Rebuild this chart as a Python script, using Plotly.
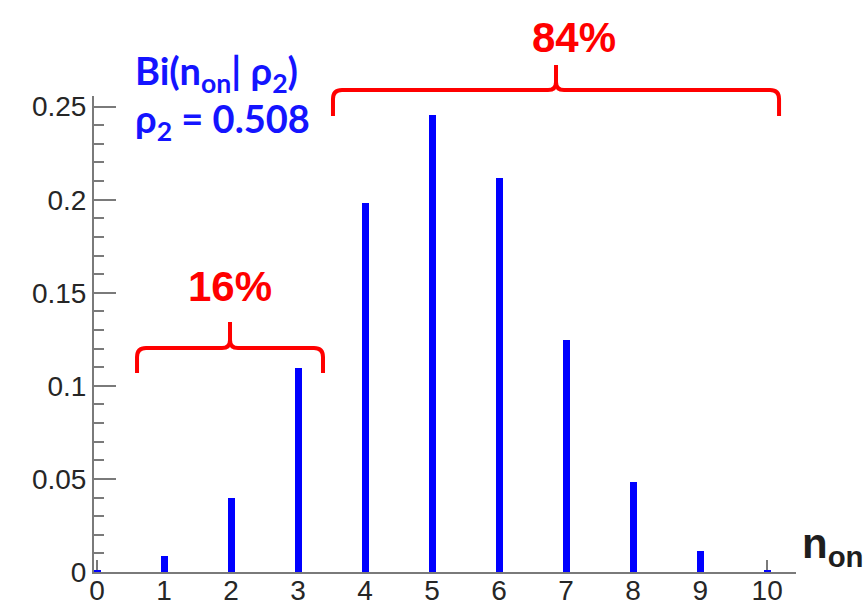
import plotly.graph_objects as go

# Binomial probabilities Bi(n_on | rho_2), rho_2 = 0.508
n_on = list(range(11))
prob = [0.0008, 0.0086, 0.0399, 0.1098, 0.1983, 0.2457, 0.2114, 0.1247, 0.0483, 0.0111, 0.0011]

y_ticks = [0, 0.05, 0.1, 0.15, 0.2, 0.25]
y_tick_text = ["0", "0.05", "0.1", "0.15", "0.2", "0.25"]
x_ticks = list(range(11))

# Braces grouping n_on <= 3 and n_on >= 4: (x_left, x_right, y_line, y_ends, y_tip)
brace_low = (0.597, 3.372, 0.1203, 0.1069, 0.1343)
brace_high = (3.521, 10.177, 0.2589, 0.2450, 0.2723)
share_low = "16%"
share_high = "84%"

W, H = 867, 605
M = dict(l=94, r=71, t=96, b=33)
XR = [-0.045, 10.43]
YR = [0, 0.2557]
PW = W - M["l"] - M["r"]
PH = H - M["t"] - M["b"]


def px(x):
    return (x - XR[0]) / (XR[1] - XR[0])


def py(y):
    return (y - YR[0]) / (YR[1] - YR[0])


def ypix(row):
    """Paper y for a pixel row counted from the top of the page."""
    return (H - M["b"] - row) / PH


def brace_path(b, r_px=9, s_px=8):
    x0, x1, yl, ye, yt = b
    X0, X1, XM = px(x0), px(x1), px((x0 + x1) / 2)
    YL, YE, YT = py(yl), py(ye), py(yt)
    rx, ry = r_px / PW, r_px / PH
    sx, sy = s_px / PW, s_px / PH
    return (
        f"M {X0},{YE} L {X0},{YL - ry} Q {X0},{YL} {X0 + rx},{YL} "
        f"L {XM - sx},{YL} Q {XM},{YL} {XM},{YL + sy} L {XM},{YT} "
        f"L {XM},{YL + sy} Q {XM},{YL} {XM + sx},{YL} "
        f"L {X1 - rx},{YL} Q {X1},{YL} {X1},{YL - ry} L {X1},{YE}"
    )


fig = go.Figure(
    go.Bar(
        x=n_on,
        y=prob,
        width=0.105,
        marker=dict(color="#0000ff", line=dict(width=0)),
        showlegend=False,
    )
)

axis_grey = "#7a7a7a"
tick_font = dict(family="Liberation Sans", size=28, color="#262626")

fig.update_xaxes(
    range=XR,
    tickvals=x_ticks,
    ticks="inside",
    ticklen=12,
    tickwidth=1.5,
    tickcolor=axis_grey,
    showline=True,
    linecolor=axis_grey,
    linewidth=2,
    showgrid=False,
    zeroline=False,
    tickfont=tick_font,
    ticklabelstandoff=-8,
    layer="below traces",
    automargin=False,
)
fig.update_yaxes(
    range=YR,
    tickvals=y_ticks,
    ticktext=y_tick_text,
    ticks="inside",
    ticklen=22,
    tickwidth=1.5,
    tickcolor=axis_grey,
    minor=dict(dtick=0.01, ticks="inside", ticklen=10, tickwidth=1.5, tickcolor=axis_grey),
    showline=True,
    linecolor=axis_grey,
    linewidth=2,
    showgrid=False,
    zeroline=False,
    tickfont=tick_font,
    automargin=False,
)

red = "#ff0000"
for b in (brace_low, brace_high):
    fig.add_shape(
        type="path",
        xref="paper",
        yref="paper",
        path=brace_path(b),
        line=dict(color=red, width=4),
    )

label_font = dict(family="Liberation Sans", size=42, color=red)
fig.add_annotation(
    x=1.99, y=ypix(286), xref="x", yref="paper", text=f"<b>{share_low}</b>",
    showarrow=False, font=label_font, xanchor="center", yanchor="middle",
)
fig.add_annotation(
    x=7.12, y=ypix(38), xref="x", yref="paper", text=f"<b>{share_high}</b>",
    showarrow=False, font=label_font, xanchor="center", yanchor="middle",
)

blue_font = dict(family="Lato", size=38, color="#1414ff")
fig.add_annotation(
    x=(133 - M["l"]) / PW, y=ypix(73), xref="paper", yref="paper",
    text="<b>Bi(n<sub>on</sub>| ρ<sub>2</sub>)</b>",
    showarrow=False, font=blue_font, xanchor="left", yanchor="middle",
)
fig.add_annotation(
    x=(133 - M["l"]) / PW, y=ypix(121), xref="paper", yref="paper",
    text="<b>ρ<sub>2</sub> = 0.508</b>",
    showarrow=False, font=blue_font, xanchor="left", yanchor="middle",
)

# axis title placed at the right end of the x axis
fig.add_annotation(
    x=1.0, y=ypix(546), xref="paper", yref="paper",
    text="<b>n<sub>on</sub></b>",
    showarrow=False, font=dict(family="Liberation Sans", size=42, color="#1e1e1e"),
    xanchor="left", yanchor="middle", xshift=4,
)

fig.update_layout(
    width=W,
    height=H,
    margin=M,
    paper_bgcolor="white",
    plot_bgcolor="white",
    bargap=0,
)

fig.write_html("out.html")
